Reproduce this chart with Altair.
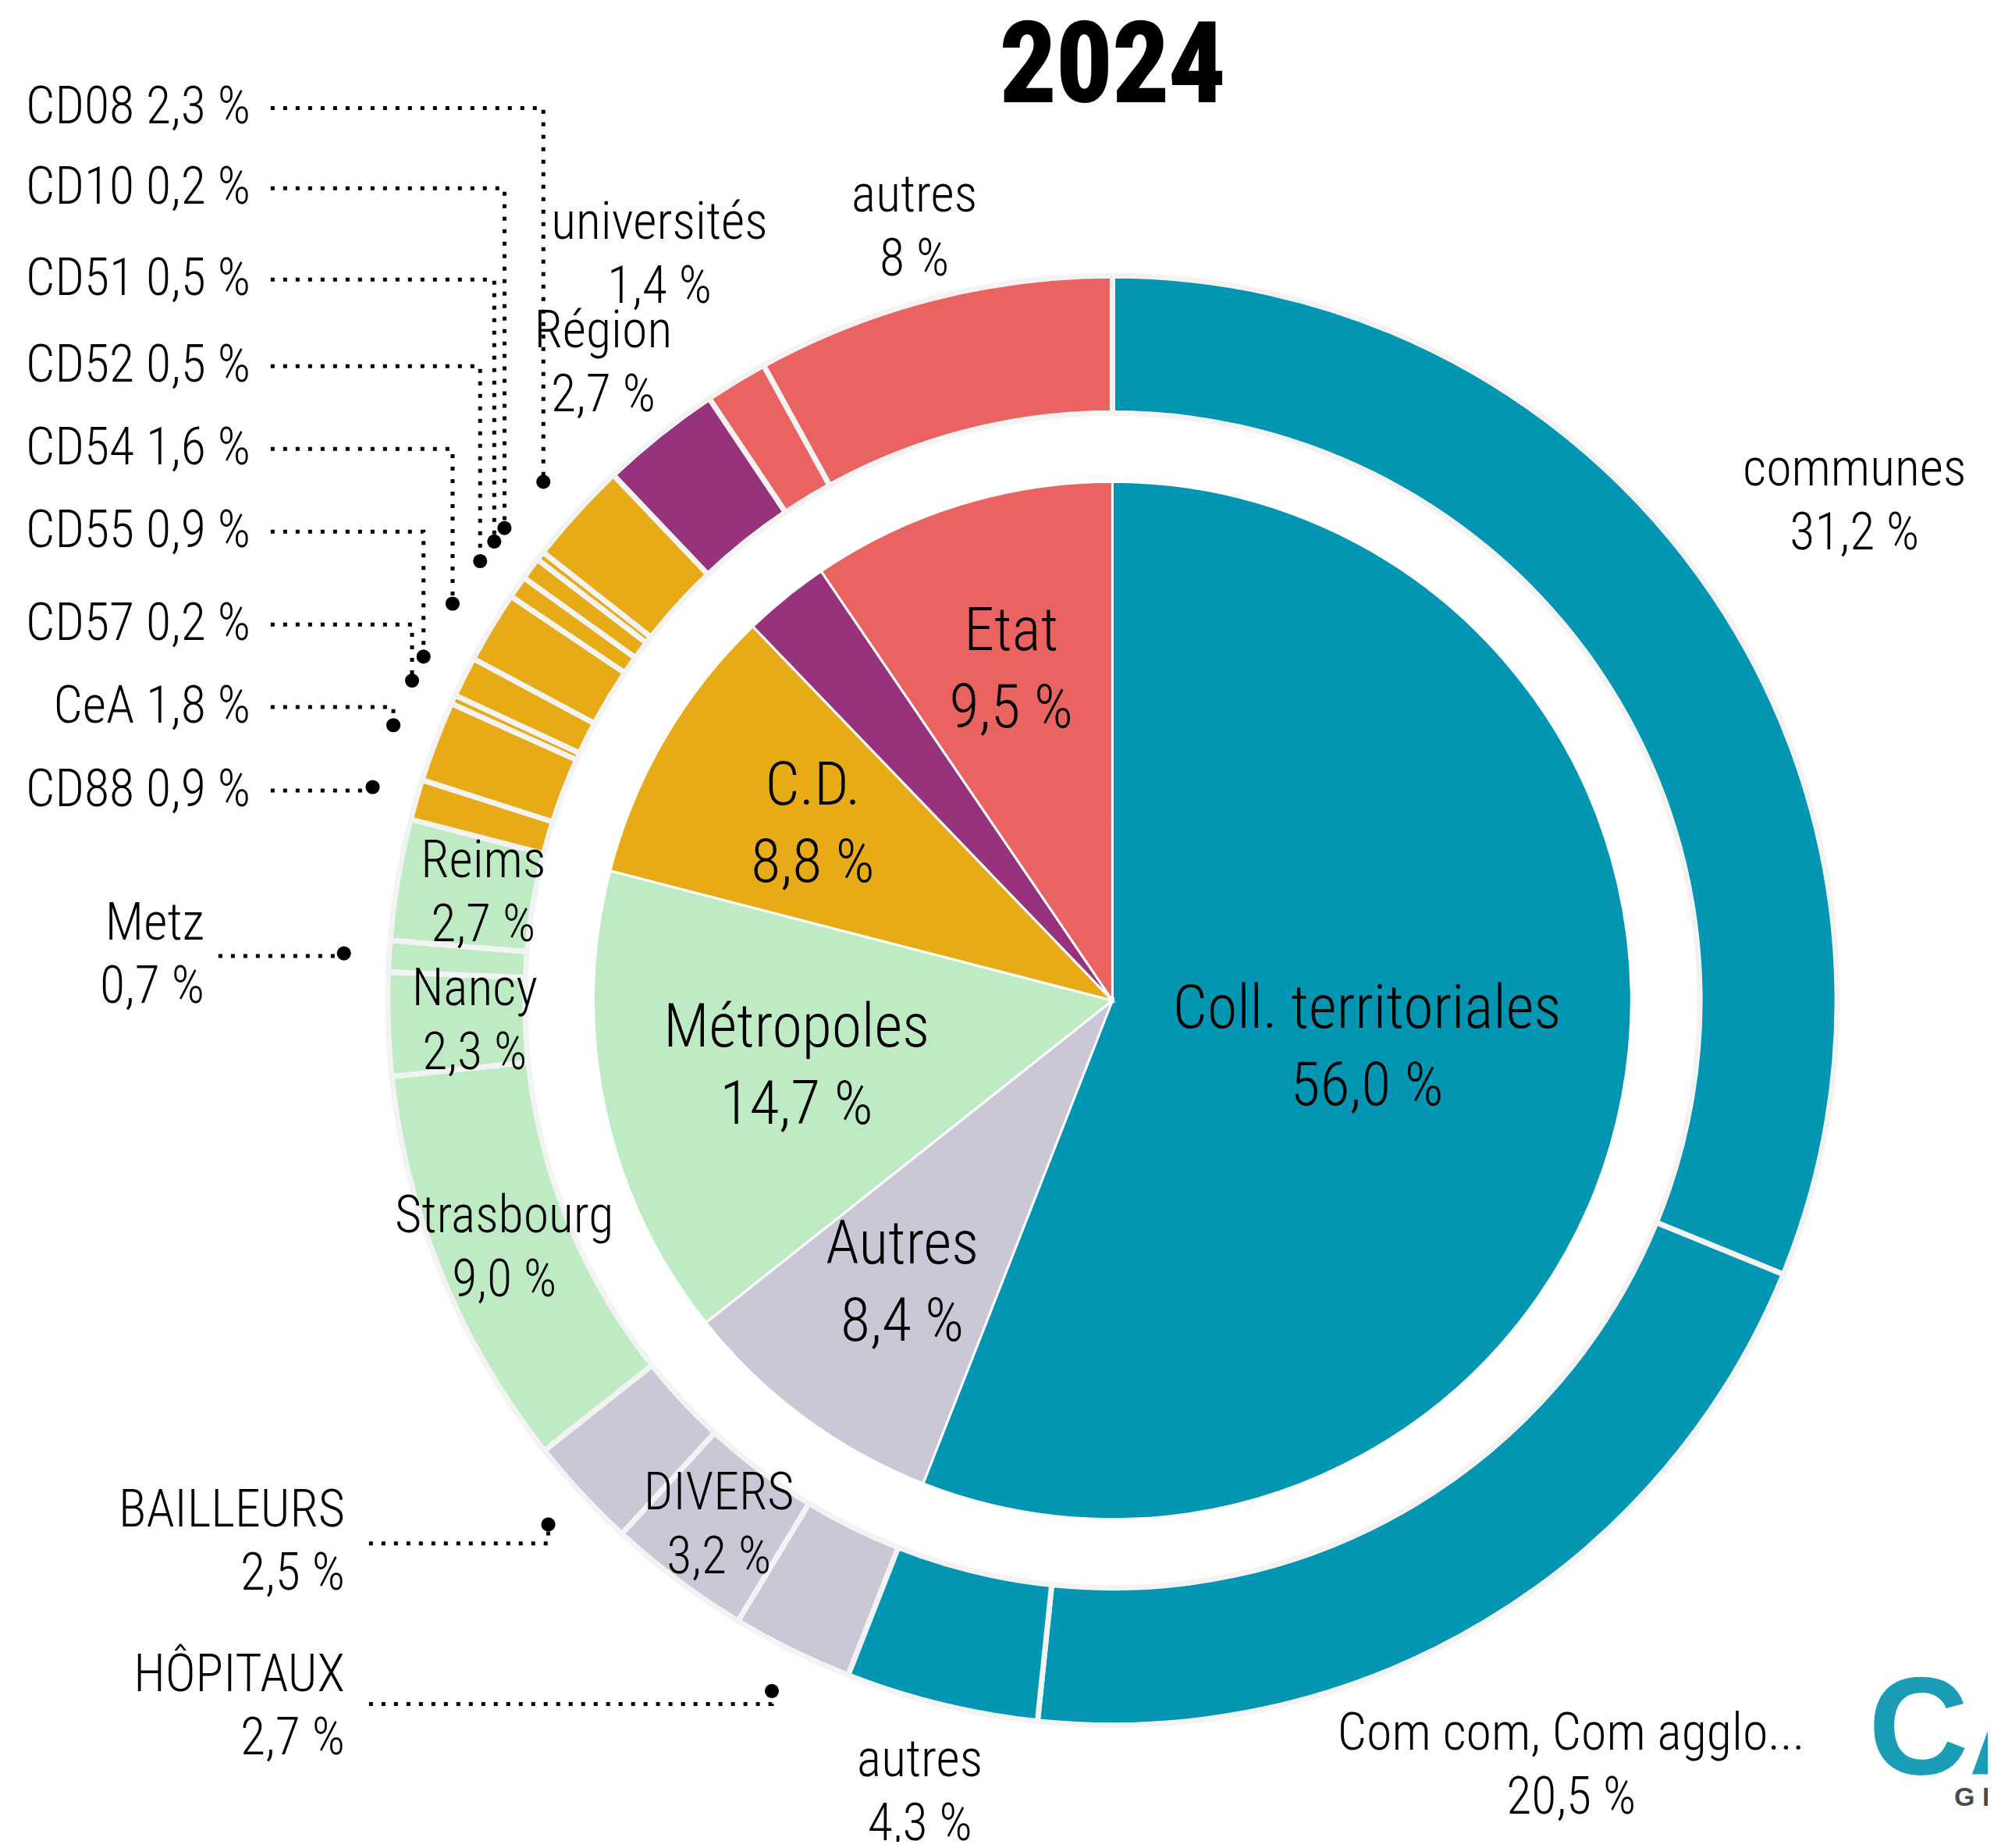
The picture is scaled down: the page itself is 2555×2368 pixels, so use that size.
import math
import altair as alt
import pandas as pd

# ---------------- data ----------------
inner_names = ["Coll. territoriales", "Autres", "Métropoles", "C.D.", "Région", "Etat"]
inner_values = [56.0, 8.4, 14.7, 8.8, 2.7, 9.5]
inner_pct = ["56,0 %", "8,4 %", "14,7 %", "8,8 %", "", "9,5 %"]
inner_group = ["coll", "autres", "metro", "cd", "region", "etat"]

outer_names = ["communes", "Com com, Com agglo...", "autres", "HÔPITAUX", "DIVERS", "BAILLEURS",
               "Strasbourg", "Nancy", "Metz", "Reims",
               "CD88", "CeA", "CD57", "CD55", "CD54", "CD52", "CD51", "CD10", "CD08",
               "Région", "universités", "autres"]
outer_values = [31.2, 20.5, 4.3, 2.7, 3.2, 2.5,
                9.0, 2.3, 0.7, 2.7,
                0.9, 1.8, 0.2, 0.9, 1.6, 0.5, 0.5, 0.2, 2.3,
                2.7, 1.4, 8.0]
outer_pct = ["31,2 %", "20,5 %", "4,3 %", "2,7 %", "3,2 %", "2,5 %",
             "9,0 %", "2,3 %", "0,7 %", "2,7 %",
             "0,9 %", "1,8 %", "0,2 %", "0,9 %", "1,6 %", "0,5 %", "0,5 %", "0,2 %", "2,3 %",
             "2,7 %", "1,4 %", "8 %"]
outer_group = ["coll"] * 3 + ["autres"] * 3 + ["metro"] * 4 + ["cd"] * 9 + ["region"] + ["etat"] * 2

group_domain = ["coll", "autres", "metro", "cd", "region", "etat"]
group_colors = ["#0396B2", "#CBC7D6", "#BFEBC4", "#E6AB17", "#97337C", "#E96460"]

# ---------------- layout ----------------
W, H = 2540, 2352
CX, CY = 1418, 1274
R_PIE, R_IN, R_OUT, R_DOT = 665, 753, 929, 987
FONT = "Roboto Condensed, Liberation Sans Narrow, Liberation Sans, sans-serif"
LW = 300  # light weight like the reference

inner_label_r = [332, 453, 414, 445, 0, 442]
outer_label_r = [1146, 1144, 1045, 0, 841, 0, 842, 818, 0, 818] + [0] * 9 + [1045, 1118, 1022]

# leader labels: name -> (text right x, text y, line start x, line y, two lines?)
leader_layout = {
    "CD08": (313, 130, 339, 130, False),
    "CD10": (313, 233, 339, 233, False),
    "CD51": (313, 350, 339, 350, False),
    "CD52": (313, 461, 339, 461, False),
    "CD54": (313, 567, 339, 567, False),
    "CD55": (313, 673, 339, 673, False),
    "CD57": (313, 792, 339, 792, False),
    "CeA": (313, 898, 339, 898, False),
    "CD88": (313, 1005, 339, 1005, False),
    "Metz": (254, 1217, 272, 1217, True),
    "BAILLEURS": (434, 1969, 465, 1970, True),
    "HÔPITAUX": (434, 2180, 465, 2176, True),
}
LEAD_LH = 81

# ---------------- tables ----------------
inner_df = pd.DataFrame({
    "idx": list(range(len(inner_names))),
    "name": inner_names,
    "value": inner_values,
    "group": inner_group,
    "label": [f"{n}\n{p}" if p else "" for n, p in zip(inner_names, inner_pct)],
    "lr": inner_label_r,
})

outer_df = pd.DataFrame({
    "idx": list(range(len(outer_names))),
    "name": outer_names,
    "value": outer_values,
    "group": outer_group,
    "label": [f"{n}\n{p}" if r > 0 else "" for n, p, r in zip(outer_names, outer_pct, outer_label_r)],
    "lr": outer_label_r,
})

total = sum(outer_values)
cum = 0.0
mid_angle = {}
for n, v in zip(outer_names, outer_values):
    if n not in mid_angle:
        mid_angle[n] = (cum + v / 2) / total * 2 * math.pi
    cum += v

line_rows, dot_rows, ltext_rows = [], [], []
for n, (tx, ty, lx, ly, two) in leader_layout.items():
    i = outer_names.index(n)
    a = mid_angle[n]
    dx = CX + R_DOT * math.sin(a)
    dy = CY - R_DOT * math.cos(a)
    line_rows += [
        {"name": n, "step": 0, "x": lx, "y": ly},
        {"name": n, "step": 1, "x": dx, "y": ly},
        {"name": n, "step": 2, "x": dx, "y": dy},
    ]
    dot_rows.append({"name": n, "x": dx, "y": dy})
    txt = f"{n}\n{outer_pct[i]}" if two else f"{n} {outer_pct[i]}"
    ltext_rows.append({"name": n, "x": tx, "y": ty - (LEAD_LH / 2 if two else 0), "label": txt})

lines_df = pd.DataFrame(line_rows)
dots_df = pd.DataFrame(dot_rows)
ltext_df = pd.DataFrame(ltext_rows)

# ---------------- chart ----------------
color = alt.Color("group:N", scale=alt.Scale(domain=group_domain, range=group_colors), legend=None)
theta = alt.Theta("value:Q", stack=True)
order = alt.Order("idx:Q")
cx, cy = alt.value(CX), alt.value(CY)

pie = alt.Chart(inner_df).mark_arc(outerRadius=R_PIE, stroke="white", strokeWidth=3).encode(
    theta=theta, color=color, order=order, x=cx, y=cy)

ring = alt.Chart(outer_df).mark_arc(innerRadius=R_IN, outerRadius=R_OUT, stroke="#f3f3f3", strokeWidth=7).encode(
    theta=theta, color=color, order=order, x=cx, y=cy)


def ring_labels(df, size, lh):
    return alt.Chart(df).transform_window(
        cum="sum(value)", sort=[alt.SortField("idx")], frame=[None, 0]
    ).transform_calculate(
        mid="datum.cum - datum.value / 2"
    ).mark_text(
        font=FONT, fontSize=size, fontWeight=LW, lineBreak="\n", lineHeight=lh, dy=-lh / 2,
        align="center", baseline="middle", color="black"
    ).encode(
        theta=alt.Theta("mid:Q", stack=None),
        radius=alt.Radius("lr:Q", scale=None),
        text="label:N", x=cx, y=cy,
    )


inner_text = ring_labels(inner_df, 78, 99)
outer_text = ring_labels(outer_df, 66, 82)

px = alt.X("x:Q", scale=None, axis=None)
py = alt.Y("y:Q", scale=None, axis=None)

lines = alt.Chart(lines_df).mark_line(color="black", strokeWidth=5, strokeDash=[5, 11]).encode(
    x=px, y=py, detail="name:N", order="step:Q")

dots = alt.Chart(dots_df).mark_circle(size=330, color="black", opacity=1).encode(x=px, y=py)

leader_text = alt.Chart(ltext_df).mark_text(
    font=FONT, fontSize=66, fontWeight=LW, lineBreak="\n", lineHeight=LEAD_LH,
    align="right", baseline="middle", color="black"
).encode(x=px, y=py, text="label:N")

title = alt.Chart(pd.DataFrame({"t": ["2024"]})).mark_text(
    font=FONT, fontSize=143, fontWeight="bold", align="center", baseline="alphabetic",
    color="black", stroke="black", strokeWidth=2
).encode(text="t:N", x=alt.value(CX), y=alt.value(122))

logo = alt.Chart(pd.DataFrame({"t": ["CA"]})).mark_text(
    font="Liberation Sans", fontSize=178, fontWeight="bold", align="left", baseline="alphabetic", color="#1B9DB8"
).encode(text="t:N", x=alt.value(2387), y=alt.value(2265))

logo2 = alt.Chart(pd.DataFrame({"t": ["G R"]})).mark_text(
    font="Liberation Sans", fontSize=34, fontWeight="bold", align="left", baseline="alphabetic",
    color="#4a4a4a"
).encode(text="t:N", x=alt.value(2497), y=alt.value(2306))

chart = alt.layer(pie, ring, lines, dots, inner_text, outer_text, leader_text, title, logo, logo2).properties(
    width=W, height=H, autosize=alt.AutoSizeParams(type="none"), padding=0, background="white"
).configure_view(stroke=None)

chart.save("out.html", embed_options={"renderer": "svg", "actions": False})
